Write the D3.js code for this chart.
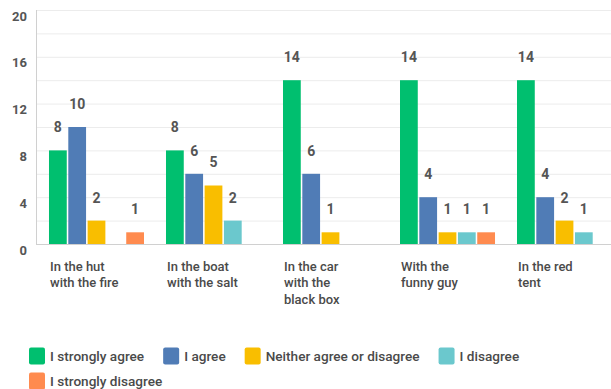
<!DOCTYPE html>
<html><head><meta charset="utf-8">
<script src="https://cdn.jsdelivr.net/npm/d3@7"></script>
<style>body{margin:0;background:#fff;}svg{display:block;font-family:Roboto,"Open Sans",sans-serif;}</style>
</head><body><svg id="c" width="611" height="389"></svg>
<script>
const categories = [["In the hut","with the fire"],["In the boat","with the salt"],["In the car","with the","black box"],["With the","funny guy"],["In the red","tent"]];
const seriesNames = ["I strongly agree","I agree","Neither agree or disagree","I disagree","I strongly disagree"];
const stronglyAgree = [8,8,14,14,14];
const agree = [10,6,6,4,4];
const neither = [2,5,1,1,2];
const disagree = [0,2,0,1,1];
const stronglyDisagree = [1,0,0,1,0];
const yTicks = [0,4,8,12,16,20];
const colors = ["#00bf6f","#507cb6","#f9be00","#6bc8cd","#ff8b4f"];

(function(){
const series = [stronglyAgree, agree, neither, disagree, stronglyDisagree];
const svg = d3.select("#c");
const left = 36, base = 244, topY = 10;
const y = d3.scaleLinear().domain([0,20]).range([base, topY]);
const x0 = d3.scaleBand().domain(d3.range(categories.length)).range([36, 625]).paddingInner(0.188).paddingOuter(0.111);
const x1 = d3.scaleBand().domain(d3.range(seriesNames.length)).range([0, x0.bandwidth()]).paddingInner(0.08);

svg.append("g").selectAll("line").data(d3.range(2,21,2)).join("line")
  .attr("x1", left).attr("x2", 611).attr("y1", d=>y(d)+0.5).attr("y2", d=>y(d)+0.5)
  .attr("stroke", "#ececec");
svg.append("line").attr("x1",left+0.5).attr("x2",left+0.5).attr("y1",topY).attr("y2",base).attr("stroke","#d0d0d0");
svg.append("line").attr("x1",left).attr("x2",611).attr("y1",base+0.5).attr("y2",base+0.5).attr("stroke","#d0d0d0");

svg.append("g").selectAll("text").data(yTicks).join("text")
  .attr("x", 27).attr("y", d=>y(d)+6).attr("dy","0.35em").attr("text-anchor","end")
  .attr("font-size",13).attr("font-weight",700).attr("fill","#555").text(d=>d);

const g = svg.append("g").selectAll("g").data(categories).join("g")
  .attr("transform",(d,i)=>`translate(${x0(i)},0)`);
g.each(function(c,i){
  const gg = d3.select(this);
  series.forEach((s,j)=>{
    const v = s[i];
    if(!v) return;
    gg.append("rect").attr("x",x1(j)).attr("width",x1.bandwidth()).attr("y",y(v)).attr("height",base-y(v)).attr("fill",colors[j]);
    gg.append("text").attr("x",x1(j)+x1.bandwidth()/2).attr("y",y(v)-23).attr("dy","0.35em").attr("text-anchor","middle")
      .attr("font-size",14).attr("font-weight",700).attr("fill","#555").text(v);
  });
  const t = gg.append("text").attr("x",1).attr("y",266).attr("font-size",13).attr("font-weight",500).attr("fill","#4a4a4a");
  c.forEach((line,k)=>t.append("tspan").attr("x",1).attr("y",266+k*16.5).attr("dy","0.35em").text(line));
});

const lg = svg.append("g");
let lx = 29, ly = 356;
seriesNames.forEach((n,j)=>{
  const item = lg.append("g");
  item.append("rect").attr("width",16).attr("height",17).attr("rx",2).attr("fill",colors[j]);
  const t = item.append("text").attr("x",21).attr("y",8.5).attr("dy","0.35em").attr("font-size",13.6).attr("font-weight",500).attr("fill","#4a4a4a").text(n);
  const w = 21 + t.node().getComputedTextLength();
  if (lx + w > 600) { lx = 29; ly += 25; }
  item.attr("transform",`translate(${lx},${ly-8.5})`);
  lx += w + 19;
});
})();
</script></body></html>
